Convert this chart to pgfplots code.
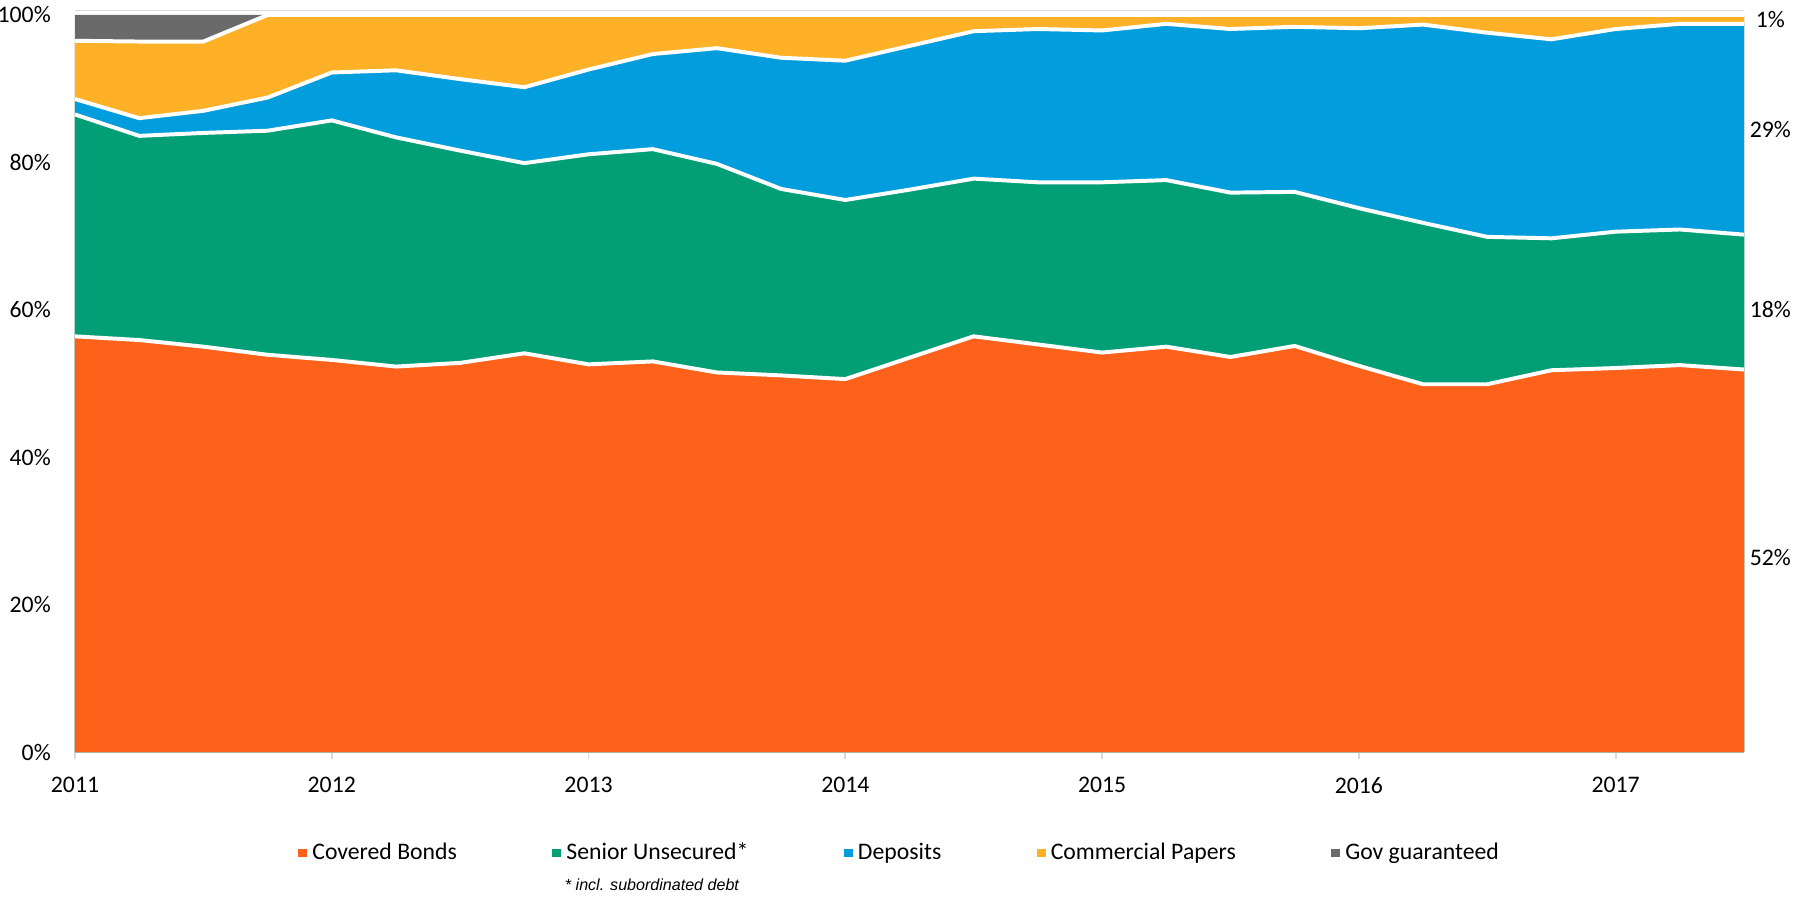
\documentclass[border=0pt]{standalone}
\usepackage{pgfplots}
\pgfplotsset{compat=1.18}
\usepackage{pgfplotstable}
\usepackage{fontspec}
\setmainfont{Carlito}
\newfontfamily\notefont{Liberation Sans}

\definecolor{cbonds}{RGB}{254,97,26}
\definecolor{senior}{RGB}{2,158,117}
\definecolor{deposits}{RGB}{2,157,220}
\definecolor{cpapers}{RGB}{254,176,38}
\definecolor{govgar}{RGB}{106,106,106}
\definecolor{axisgray}{RGB}{217,217,217}

% shares in %, quarterly
\pgfplotstableread{
t cb su dep cp gov
2011.00 56.4 30.1 2.1 7.9 3.5
2011.25 55.9 27.7 2.4 10.4 3.6
2011.50 55.0 29.0 3.0 9.4 3.6
2011.75 53.9 30.4 4.5 11.2 0
2012.00 53.2 32.5 6.5 7.8 0
2012.25 52.3 31.1 9.1 7.5 0
2012.50 52.8 28.8 9.7 8.7 0
2012.75 54.1 25.8 10.3 9.8 0
2013.00 52.6 28.5 11.5 7.4 0
2013.25 53.0 28.8 12.9 5.3 0
2013.50 51.5 28.3 15.7 4.5 0
2013.75 51.1 25.3 17.8 5.8 0
2014.00 50.6 24.3 18.9 6.2 0
2014.25 53.5 22.8 19.5 4.2 0
2014.50 56.4 21.4 20.0 2.2 0
2014.75 55.3 22.0 20.8 1.9 0
2015.00 54.2 23.1 20.6 2.1 0
2015.25 55.0 22.6 21.2 1.2 0
2015.50 53.6 22.3 22.2 1.9 0
2015.75 55.1 20.9 22.4 1.6 0
2016.00 52.4 21.4 24.4 1.8 0
2016.25 49.9 21.9 26.9 1.3 0
2016.50 49.9 20.0 27.7 2.4 0
2016.75 51.8 17.9 27.0 3.3 0
2017.00 52.1 18.5 27.5 1.9 0
2017.25 52.5 18.4 27.9 1.2 0
2017.50 51.9 18.3 28.6 1.2 0
}\funding

\begin{document}
\begin{tikzpicture}
\begin{axis}[
  scale only axis,
  width=22.253cm, height=9.827cm,
  xmin=2011, xmax=2017.5,
  ymin=0, ymax=100,
  clip=false,
  axis x line*=bottom, axis y line*=left,
  x axis line style={axisgray, line width=0.9pt},
  y axis line style={draw=none},
  tick align=outside,
  major tick length=2.5pt,
  xtick={2011,2012,2013,2014,2015,2016,2017},
  xticklabels={2011,2012,2013,2014,2015,2016,2017},
  ytick={0,20,40,60,80,100},
  yticklabels={0\%,20\%,40\%,60\%,80\%,100\%},
  xtick style={axisgray, line width=0.7pt},
  ytick style={draw=none},
  ticklabel style={font=\fontsize{9}{11}\selectfont},
  xticklabel style={yshift=-3.6pt},
  yticklabel style={xshift=-3.2pt},
  legend columns=5,
  legend style={at={(0.495,-0.137)}, anchor=center, draw=none,
    font=\fontsize{9}{11}\selectfont,
    /tikz/every even column/.append style={column sep=1.2cm}},
]
\addlegendimage{legend image code/.code={\fill[cbonds] (0pt,-1.5pt) rectangle (3pt,1.5pt);}}
\addlegendentry{Covered Bonds}
\addlegendimage{legend image code/.code={\fill[senior] (0pt,-1.5pt) rectangle (3pt,1.5pt);}}
\addlegendentry{Senior Unsecured*}
\addlegendimage{legend image code/.code={\fill[deposits] (0pt,-1.5pt) rectangle (3pt,1.5pt);}}
\addlegendentry{Deposits}
\addlegendimage{legend image code/.code={\fill[cpapers] (0pt,-1.5pt) rectangle (3pt,1.5pt);}}
\addlegendentry{Commercial Papers}
\addlegendimage{legend image code/.code={\fill[govgar] (0pt,-1.5pt) rectangle (3pt,1.5pt);}}
\addlegendentry{Gov guaranteed}

% areas, painted from the top of the stack down
\addplot[fill=govgar, draw=none, forget plot] table[x=t, y expr=\thisrow{cb}+\thisrow{su}+\thisrow{dep}+\thisrow{cp}+\thisrow{gov}] {\funding} \closedcycle;
\addplot[fill=cpapers, draw=none, forget plot] table[x=t, y expr=\thisrow{cb}+\thisrow{su}+\thisrow{dep}+\thisrow{cp}] {\funding} \closedcycle;
\addplot[fill=deposits, draw=none, forget plot] table[x=t, y expr=\thisrow{cb}+\thisrow{su}+\thisrow{dep}] {\funding} \closedcycle;
\addplot[fill=senior, draw=none, forget plot] table[x=t, y expr=\thisrow{cb}+\thisrow{su}] {\funding} \closedcycle;
\addplot[fill=cbonds, draw=none, forget plot] table[x=t, y=cb] {\funding} \closedcycle;

% white separators
\addplot[white, line width=1.5pt, forget plot] table[x=t, y=cb] {\funding};
\addplot[white, line width=1.5pt, forget plot] table[x=t, y expr=\thisrow{cb}+\thisrow{su}] {\funding};
\addplot[white, line width=1.5pt, forget plot] table[x=t, y expr=\thisrow{cb}+\thisrow{su}+\thisrow{dep}] {\funding};
\addplot[white, line width=1.5pt, forget plot] table[x=t, y expr=\thisrow{cb}+\thisrow{su}+\thisrow{dep}+\thisrow{cp}] {\funding};

\draw[axisgray, line width=0.5pt] ([yshift=1.6pt]axis cs:2011,100) -- ([yshift=1.6pt]axis cs:2017.5,100);

% end-of-period shares
\begin{scope}[every node/.style={font=\fontsize{9}{11}\selectfont, xshift=0.35cm}]
\node at (axis cs:2017.5,99.4) {1\%};
\node at (axis cs:2017.5,84.4) {29\%};
\node at (axis cs:2017.5,60.0) {18\%};
\node at (axis cs:2017.5,26.4) {52\%};
\end{scope}

\node[font=\notefont\itshape\fontsize{6.1}{7.5}\selectfont] at (rel axis cs:0.3457,-0.1805) {* incl. subordinated debt};
\end{axis}
\pgfresetboundingbox
\path[use as bounding box] (-1.0cm,-1.973cm) rectangle (23.0cm,10.027cm);
\end{tikzpicture}
\end{document}
